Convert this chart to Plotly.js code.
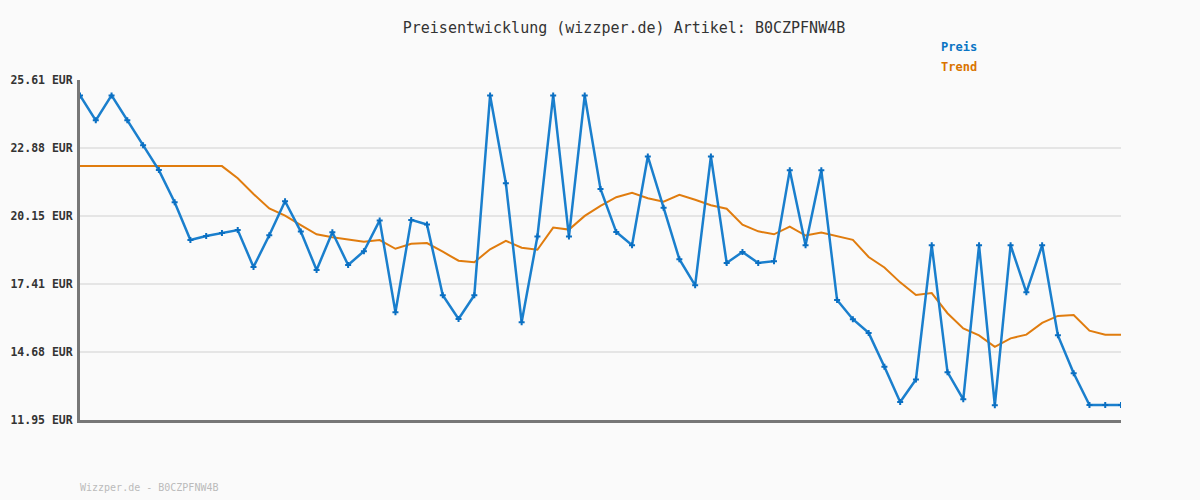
<!DOCTYPE html>
<html><head><meta charset="utf-8">
<script src="https://cdn.plot.ly/plotly-3.0.1.min.js"></script>
<style>html,body{margin:0;padding:0;background:#fafafa;}#chart{width:1200px;height:500px;}</style>
</head><body><div id="chart"></div>
<script>
const preis = [24.99,23.99,24.99,23.99,22.99,21.99,20.70,19.18,19.34,19.46,19.58,18.10,19.37,20.74,19.52,17.98,19.49,18.18,18.73,19.97,
16.28,19.99,19.80,16.96,16.01,16.96,24.99,21.46,15.88,19.32,24.99,19.32,24.99,21.23,19.50,18.97,22.54,20.48,18.41,17.36,
22.54,18.26,18.70,18.26,18.33,21.98,18.97,21.98,16.77,16.00,15.45,14.09,12.67,13.58,18.97,13.87,12.78,18.97,12.54,18.97,
17.08,18.97,15.35,13.83,12.55,12.55,12.55];
const trend = [22.15,22.15,22.15,22.15,22.15,22.15,22.15,22.15,22.15,22.15,21.66,21.03,20.45,20.16,19.78,19.41,19.29,19.21,19.11,19.18,
18.83,19.03,19.06,18.71,18.35,18.29,18.81,19.15,18.87,18.79,19.68,19.60,20.15,20.55,20.90,21.08,20.86,20.72,21.00,20.80,
20.58,20.44,19.80,19.53,19.41,19.72,19.36,19.48,19.32,19.19,18.50,18.08,17.48,16.97,17.05,16.24,15.63,15.35,14.89,15.23,
15.38,15.85,16.13,16.17,15.54,15.38,15.38];
const tickVals = [11.95,14.68,17.41,20.15,22.88,25.61];
const tickText = ["11.95 EUR","14.68 EUR","17.41 EUR","20.15 EUR","22.88 EUR","25.61 EUR"];
const xs = preis.map((_, i) => i);
const mono = "DejaVu Sans Mono, monospace";
const traces = [
  {x: xs, y: trend, type: 'scatter', mode: 'lines', name: 'Trend',
   line: {color: '#e07c0e', width: 2}, hoverinfo: 'skip'},
  {x: xs, y: preis, type: 'scatter', mode: 'lines+markers', name: 'Preis',
   line: {color: '#1a7fcd', width: 2.5}, marker: {symbol: 'cross', size: 5, color: '#0a6fc2', line: {width: 0}}}
];
const layout = {
  width: 1200, height: 500,
  paper_bgcolor: '#fafafa', plot_bgcolor: '#fafafa',
  margin: {l: 80, r: 79, t: 80, b: 80},
  showlegend: false,
  font: {family: mono, color: '#333'},
  title: {text: 'Preisentwicklung (wizzper.de) Artikel: B0CZPFNW4B', font: {family: mono, size: 15, color: '#333'},
          x: 0.52, xanchor: 'center', y: 0.944, yanchor: 'middle'},
  xaxis: {range: [0, 66], showgrid: false, zeroline: false, showticklabels: false, ticks: '',
          showline: true, linecolor: '#777', linewidth: 3, fixedrange: true},
  yaxis: {range: [11.95, 25.61], tickvals: tickVals, ticktext: tickText, showgrid: true, gridcolor: '#e5e5e5', gridwidth: 2,
          zeroline: false, showline: true, linecolor: '#777', linewidth: 3, ticks: '', ticklen: 0,
          tickfont: {family: mono, size: 11.5, color: '#333', weight: 'bold'}, ticklabelstandoff: 2},
  annotations: [
    {xref: 'paper', yref: 'paper', x: 0.825, y: 1.0, yshift: 33, xanchor: 'left', yanchor: 'middle', showarrow: false,
     text: '<b>Preis</b>', font: {family: mono, size: 12, color: '#0a74c4'}},
    {xref: 'paper', yref: 'paper', x: 0.825, y: 1.0, yshift: 13, xanchor: 'left', yanchor: 'middle', showarrow: false,
     text: '<b>Trend</b>', font: {family: mono, size: 12, color: '#d97400'}},
    {xref: 'paper', yref: 'paper', x: 0, y: 0, yshift: -67, xshift: -2, xanchor: 'left', yanchor: 'middle', showarrow: false,
     text: 'Wizzper.de - B0CZPFNW4B', font: {family: mono, size: 10, color: '#bbbbbb'}}
  ]
};
Plotly.newPlot('chart', traces, layout, {displayModeBar: false, staticPlot: true});
</script>
</body></html>
